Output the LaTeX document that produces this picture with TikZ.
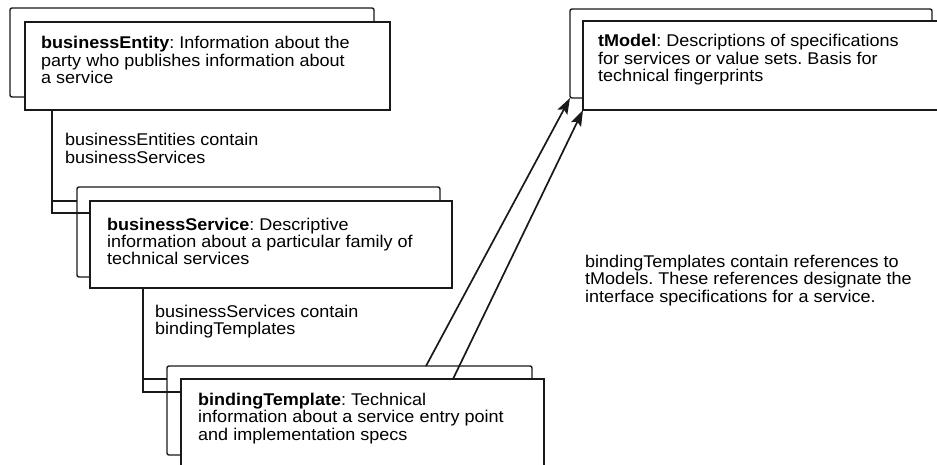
\documentclass[tikz,border=0pt]{standalone}
\usepackage{fontspec}
\setmainfont{Liberation Sans}[FakeStretch=1.06]
\usetikzlibrary{arrows.meta,calc}
\frenchspacing
\begin{document}
\begin{tikzpicture}[x=1pt,y=-1pt,
  sheet/.style={draw=black!90, line width=1.4pt, fill=white, inner sep=0pt, outer sep=0pt, anchor=north west},
  backsheet/.style={sheet, rounded corners=2pt},
  txt/.style={inner sep=0pt, anchor=base west, align=left, font=\fontsize{17}{17.5}\selectfont},
  link/.style={draw=black!90, line width=1.4pt},
  ref/.style={draw=black!90, line width=1.7pt, -{Stealth[length=16pt,width=11pt,inset=3pt]}}]
\useasboundingbox (0,0) rectangle (937,465);

% businessEntity (stacked sheets)
\node[backsheet, minimum width=364pt, minimum height=89pt] (entB) at (10,8) {};
\node[sheet, minimum width=365pt, minimum height=88pt] (entF) at (25,22) {};

% businessService, back sheet
\node[backsheet, minimum width=363pt, minimum height=90pt] (svcB) at (77,187) {};

% entity -> service connector
\coordinate (entDrop) at ([xshift=27pt]entF.south west);
\draw[link] (entDrop) |- ([xshift=13pt,yshift=-26pt]svcB.north west);
\draw[link] (entDrop |- svcB.north) ++(0,14) -- ++(25,0);

% businessService, front sheet
\node[sheet, minimum width=362pt, minimum height=87pt] (svcF) at (90,201) {};

% bindingTemplate, back sheet
\node[backsheet, minimum width=365pt, minimum height=89pt] (bndB) at (167,366) {};

% tModel
\node[backsheet, minimum width=362pt, minimum height=89pt] (tmB) at (570,9) {};
\node[sheet, minimum width=370pt, minimum height=89pt] (tmF) at (583,21) {};

% first reference from bindingTemplate to tModel
\draw[ref] ([xshift=259pt]bndB.north west) -- (tmB.south west);

% service -> binding connector
\coordinate (svcDrop) at ([xshift=53pt]svcF.south west);
\draw[link] (svcDrop) |- ([xshift=14pt,yshift=-26pt]bndB.north west);
\draw[link] (svcDrop |- bndB.north) ++(0,13) -- ++(24,0);

% bindingTemplate, front sheet
\node[sheet, minimum width=363pt, minimum height=110pt] (bndF) at (181,379) {};
\draw[ref] ([xshift=272pt]bndF.north west) -- (tmF.south west);

% texts (placed by the baseline of their last line)
\node[txt] (entT) at (41,84) {\textbf{businessEntity}: Information about the\\party who publishes information about\\a service};
\node[txt] (entL) at (65,163.5) {businessEntities contain\\businessServices};
\node[txt] (svcT) at (107,265) {\textbf{businessService}: Descriptive\\information about a particular family of\\technical services};
\node[txt] (svcL) at (155,334.5) {businessServices contain\\bindingTemplates};
\node[txt] (bndT) at (198,440) {\textbf{bindingTemplate}: Technical\\information about a service entry point\\and implementation specs};
\node[txt] (tmT) at (598,82) {\textbf{tModel}: Descriptions of specifications\\for services or value sets. Basis for\\technical fingerprints};
\node[txt] (refT) at (585,302) {bindingTemplates contain references to\\tModels. These references designate the\\interface specifications for a service.};
\end{tikzpicture}
\end{document}
